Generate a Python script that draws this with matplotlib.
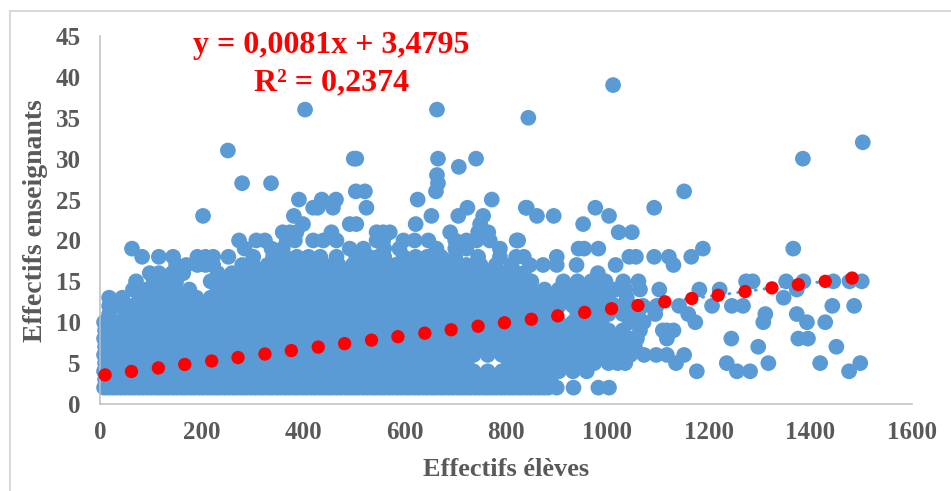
import numpy as np
import matplotlib.pyplot as plt
from matplotlib.lines import Line2D

# dense part of the cloud: x values read per teacher count
row_02 = [8,16,25,33,42,50,59,67,76,84,93,101,110,118,127,135,144,152,161,169,178,186,195,203,212,220,229,237,246,254,263,271,280,288,297,305,314,322,331,339,348,356,365,373,382,390,399,407,416,424,433,441,450,458,467,475,484,492,501,509,518,526,535,543,552,560,569,577,586,594,603,611,620,628,637,645,654,662,671,679,688,696,705,713,722,730,739,747,756,764,773,781,790,798,807,815,824,832,841,849,858,866,875,883,900,933,982,1003]
row_03 = [10,22,50,78,106,134,162,190,218,246,274,302,330,358,386,414,442,470,498,526,554,582,610,638,666,694,722,750,778,806,830,858,888]
row_04 = [8,36,64,92,120,148,176,204,232,260,288,316,344,372,400,428,456,484,512,540,568,596,624,652,680,708,736,764,792,820,848,876,904,932,959]
row_05 = [10,22,50,78,106,134,162,190,218,246,274,302,330,358,386,414,442,470,498,526,554,582,610,638,666,694,722,806,834,862,890,918,946,974,1002,1020,1035]
row_06 = [8,36,64,92,120,148,176,204,232,260,288,316,344,372,400,428,456,484,512,540,568,596,624,652,680,708,736,764,792,820,848,876,904,932,960,988,1016,1045]
row_07 = [10,22,50,78,106,134,162,190,218,246,274,302,330,358,386,414,442,470,498,526,554,582,610,638,666,694,722,750,778,806,834,862,890,918,946,974,1002,1030,1054]
row_08 = [8,36,64,92,120,148,176,204,232,260,288,316,344,372,400,428,456,484,512,540,568,596,624,652,680,708,736,764,792,820,848,876,904,932,960,988,1016,1044,1058]
row_09 = [10,22,50,78,106,134,162,190,218,246,274,302,330,358,386,414,442,470,498,526,554,582,610,638,666,694,722,750,778,806,834,862,890,918,946,974,1002,1030,1064]
row_10 = [8,36,64,92,120,148,176,204,232,260,288,316,344,372,400,428,456,484,512,540,568,596,624,652,680,708,736,764,792,820,848,876,904,932,960,988,1044,1071]
row_11 = [18,50,78,106,134,162,190,218,246,274,302,330,358,386,414,442,470,498,526,554,582,610,638,666,694,722,750,778,806,834,862,890,946,974,1002,1030,1060,1094]
row_12 = [18,36,64,92,120,148,176,204,232,260,288,316,344,372,400,428,456,484,512,540,568,596,624,652,680,708,736,764,792,820,848,876,904,932,960,988,1016,1044,1070,1097]
row_13 = [18,44,78,106,134,162,190,218,246,274,302,330,358,386,414,442,470,498,526,554,582,610,638,666,694,722,750,778,806,834,862,890,918,946,974,1002,1038]
row_14 = [65,92,120,148,176,232,260,288,316,344,372,400,428,456,484,512,540,568,596,624,652,680,708,736,764,792,820,848,876,904,932,960,988,1016,1035]
row_15 = [71,106,134,150,218,246,274,302,330,358,386,414,442,470,498,526,554,582,610,638,666,694,722,750,778,806,834,850,913,941,968,996,1031]
row_16 = [98,116,142,164,232,260,288,316,344,372,400,428,456,484,512,540,568,596,624,652,680,708,736,764,792,820,835,981]
row_17 = [150,170,192,208,223,280,302,330,358,386,414,442,470,498,526,554,582,610,638,666,694,722,750,780,811,847,873,900,939,1016,1130]
row_18 = [83,116,144,192,208,223,253,302,341,365,388,411,434,466,505,530,548,560,598,622,645,672,700,745,788,820,835,900,1043,1056,1092,1121,1165]
row_19 = [63,285,338,360,492,519,560,590,663,700,722,788,943,954,982,1188,1366]
row_20 = [274,308,325,368,384,420,440,466,545,558,598,620,647,700,722,742,768,821,824]
row_21 = [360,374,387,456,545,558,571,690,745,765,1022,1048]
row_22 = [400,492,505,622,749,952]
row_23 = [203,382,653,706,755,861,894,1003]
row_24 = [420,429,459,525,724,841,839,976,1092]
row_25 = [392,437,465,626,772]
row_26 = [504,522,662,1151]
row_27 = [280,337,666]
row_28 = [664]
row_29 = [707]
row_30 = [500,505,666,741,1385]
row_31 = [252]
row_32 = [1503]
row_35 = [844]
row_36 = [404,664]
row_39 = [1011]
teacher_rows = {2: row_02, 3: row_03, 4: row_04, 5: row_05, 6: row_06, 7: row_07, 8: row_08, 9: row_09,
                10: row_10, 11: row_11, 12: row_12, 13: row_13, 14: row_14, 15: row_15, 16: row_16,
                17: row_17, 18: row_18, 19: row_19, 20: row_20, 21: row_21, 22: row_22, 23: row_23,
                24: row_24, 25: row_25, 26: row_26, 27: row_27, 28: row_28, 29: row_29, 30: row_30,
                31: row_31, 32: row_32, 35: row_35, 36: row_36, 39: row_39}

# sparse right side of the cloud
right_x = [1061,1064,1102,1181,1221,1273,1286,1352,1386,1445,1477,1501,1373,1347,1141,1206,1245,1267,1443,1486,1159,1311,1373,1307,1173,1393,1429,1109,1130,1117,1117,1244,1376,1395,1297,1451,1072,1096,1117,1151,1135,1235,1317,1419,1498,1176,1255,1281,1476]
right_y = [15,14,14,14,14,15,15,15,15,15,15,15,14,13,12,12,12,12,12,12,11,11,11,10,10,10,10,9,9,9,8,8,8,8,7,7,6,6,6,6,5,5,5,5,5,4,4,4,4]

# red points on the regression line
trend_x = [10,62,115,167,220,272,325,377,430,482,535,587,640,692,745,797,850,902,955,1008,1060,1113,1166,1218,1271,1324,1376,1429,1482]
trend_y = [3.56,3.98,4.41,4.84,5.26,5.68,6.11,6.53,6.96,7.38,7.81,8.23,8.66,9.08,9.51,9.93,10.36,10.78,11.2,11.65,12.05,12.5,12.9,13.3,13.75,14.2,14.6,15.0,15.4]

x_ticks = [0,200,400,600,800,1000,1200,1400,1600]
y_ticks = [0,5,10,15,20,25,30,35,40,45]

plt.rcParams['font.family'] = ['Liberation Serif']
plt.rcParams['font.weight'] = 'bold'

W, H = 951, 491
fig = plt.figure(figsize=(W / 100, H / 100), dpi=100)
ax = fig.add_axes([100 / W, (H - 404) / H, 812 / W, 368 / H])

all_x = []
all_y = []
for level, xs in teacher_rows.items():
    all_x += xs
    all_y += [level] * len(xs)
all_x += right_x
all_y += right_y

ax.scatter(all_x, all_y, s=128, color='#5B9BD5', edgecolors='none', zorder=2, clip_on=False)
ax.plot(trend_x, trend_y, color='#5B9BD5', lw=2.2, linestyle=(0, (0.3, 2.6)), dash_capstyle='round', zorder=3)
ax.scatter(trend_x, trend_y, s=92, color='#FF0000', edgecolors='none', zorder=4, clip_on=False)

ax.set_xlim(0, 1600)
ax.set_ylim(0, 45)
ax.set_xticks(x_ticks)
ax.set_yticks(y_ticks)
ax.tick_params(length=0, labelsize=18, labelcolor='#595959')
ax.tick_params(axis='x', pad=12)
ax.tick_params(axis='y', pad=14)
for side in ['top', 'right']:
    ax.spines[side].set_visible(False)
for side in ['left', 'bottom']:
    ax.spines[side].set_color('#BFBFBF')
    ax.spines[side].set_linewidth(1.1)

ax.set_xlabel('Effectifs élèves', fontsize=19, color='#595959', fontweight='bold', va='center')
ax.set_ylabel('Effectifs enseignants', fontsize=20, color='#595959', fontweight='bold', va='center')
ax.xaxis.set_label_coords(0.5, -66 / 368)
ax.yaxis.set_label_coords(-64 / 812, 183 / 368)

fig.text(331 / W, 1 - 46 / H, 'y = 0,0081x + 3,4795', color='#FF0000', fontsize=23, fontweight='bold', ha='center', va='center')
fig.text(332 / W, 1 - 83 / H, 'R² = 0,2374', color='#FF0000', fontsize=23, fontweight='bold', ha='center', va='center')

# frame of the pasted chart
fig.add_artist(Line2D([9.5 / W, 9.5 / W], [0, 1 - 11 / H], color='#D9D9D9', lw=1.5))
fig.add_artist(Line2D([9.5 / W, 1], [1 - 11 / H, 1 - 11 / H], color='#D9D9D9', lw=1.5))

fig.savefig('out.png', dpi=100)
